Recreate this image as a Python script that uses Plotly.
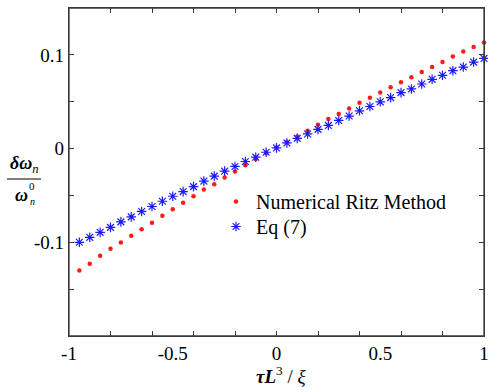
import plotly.graph_objects as go

# ---- data ----
tau_values = [-0.95, -0.90, -0.85, -0.80, -0.75, -0.70, -0.65, -0.60, -0.55, -0.50,
              -0.45, -0.40, -0.35, -0.30, -0.25, -0.20, -0.15, -0.10, -0.05, 0.00,
              0.05, 0.10, 0.15, 0.20, 0.25, 0.30, 0.35, 0.40, 0.45, 0.50,
              0.55, 0.60, 0.65, 0.70, 0.75, 0.80, 0.85, 0.90, 0.95, 1.00]

ritz_values = [-0.1300, -0.1230, -0.1145, -0.1070, -0.1003, -0.0930, -0.0860, -0.0792, -0.0718, -0.0648,
               -0.0577, -0.0509, -0.0437, -0.0382, -0.0310, -0.0244, -0.0177, -0.0110, -0.0046, 0.0012,
               0.0071, 0.0130, 0.0191, 0.0255, 0.0315, 0.0368, 0.0427, 0.0488, 0.0541, 0.0597,
               0.0654, 0.0707, 0.0760, 0.0817, 0.0870, 0.0923, 0.0983, 0.1036, 0.1085, 0.1131]

eq7_values = [-0.1000, -0.0947, -0.0894, -0.0841, -0.0782, -0.0729, -0.0671, -0.0618, -0.0562, -0.0509,
              -0.0459, -0.0406, -0.0347, -0.0294, -0.0241, -0.0191, -0.0138, -0.0092, -0.0039, 0.0007,
              0.0060, 0.0109, 0.0156, 0.0205, 0.0247, 0.0300, 0.0347, 0.0403, 0.0449, 0.0499,
              0.0544, 0.0597, 0.0636, 0.0689, 0.0739, 0.0782, 0.0831, 0.0870, 0.0923, 0.0962]

series_names = ["Numerical Ritz Method", "Eq (7)"]

x_label_vals = [-1, -0.5, 0, 0.5, 1]
x_label_text = ["-1", "-0.5", "0", "0.5", "1"]
x_minor_vals = [-0.8, -0.6, -0.4, -0.2, 0, 0.2, 0.4, 0.6, 0.8]
y_label_vals = [-0.1, 0, 0.1]
y_label_text = ["-0.1", "0", "0.1"]
y_minor_vals = [-0.15, -0.05, 0.05]

# ---- layout geometry ----
W, H = 488, 387
ML, MR, MT, MB = 69, 4, 8, 51
PW, PH = W - ML - MR, H - MT - MB


def px(xp):
    return (xp - ML) / PW


def py(yp):
    return (H - MB - yp) / PH


FONT = "Liberation Serif, Times New Roman, serif"
AX = "#3a3a3a"

fig = go.Figure()
fig.add_trace(go.Scatter(
    x=tau_values, y=ritz_values, mode="markers", name=series_names[0],
    legend="legend", cliponaxis=False,
    marker=dict(symbol="circle", size=4.5, color="#ff1a1a", line=dict(width=0)),
))
fig.add_trace(go.Scatter(
    x=tau_values, y=eq7_values, mode="markers", name=series_names[1],
    legend="legend2", cliponaxis=False,
    marker=dict(symbol="asterisk-open", size=8, color="#1a1aff",
                line=dict(width=1.2, color="#1a1aff")),
))

axis_common = dict(
    showline=True, linecolor=AX, linewidth=1.3, mirror="allticks",
    showgrid=False, zeroline=False, automargin=False,
    tickfont=dict(family=FONT, size=19, color="black"),
    tickcolor=AX, ticklen=5, tickwidth=1, ticklabeloverflow="allow",
)

legend_common = dict(
    xanchor="left", yanchor="top",
    bgcolor="rgba(0,0,0,0)", borderwidth=0,
    font=dict(family=FONT, size=20, color="black"),
)

fig.update_layout(
    width=W, height=H,
    margin=dict(l=ML, r=MR, t=MT, b=MB, autoexpand=False),
    paper_bgcolor="white", plot_bgcolor="white",
    font=dict(family=FONT, size=19, color="black"),
    showlegend=True,
    legend=dict(x=px(216), y=py(182), **legend_common),
    legend2=dict(x=px(216), y=py(207), **legend_common),
    xaxis=dict(
        range=[-1, 1], tickmode="array", tickvals=x_label_vals, ticktext=x_label_text,
        ticks="", ticklabelstandoff=0,
        minor=dict(tickmode="array", tickvals=x_minor_vals, ticks="inside",
                   ticklen=5, tickcolor=AX, tickwidth=1),
        **axis_common,
    ),
    yaxis=dict(
        range=[-0.2, 0.15], tickmode="array", tickvals=y_label_vals, ticktext=y_label_text,
        ticks="inside",
        minor=dict(tickmode="array", tickvals=y_minor_vals, ticks="inside",
                   ticklen=5, tickcolor=AX, tickwidth=1),
        **axis_common,
    ),
)

# plot frame
fig.add_shape(
    type="rect", xref="paper", yref="paper", x0=0, x1=1, y0=0, y1=1,
    line=dict(color=AX, width=1.3), fillcolor="rgba(0,0,0,0)", layer="above",
)

ann = dict(xref="paper", yref="paper", showarrow=False, xanchor="center", yanchor="middle")

# x-axis title
fig.add_annotation(
    x=px(281), y=py(375),
    text="<b><i>τL</i></b><sup>3</sup> / <i>ξ</i>",
    font=dict(family=FONT, size=19, color="black"), **ann,
)

# y-axis title as a stacked fraction
fig.add_annotation(
    x=px(24), y=py(164),
    text="<b><i>δω</i></b><sub><i>n</i></sub>",
    font=dict(family=FONT, size=18, color="black"), **ann,
)
fig.add_shape(
    type="line", xref="paper", yref="paper",
    x0=px(7), x1=px(41), y0=py(179), y1=py(179),
    line=dict(color="black", width=1),
)
fig.add_annotation(
    x=px(21), y=py(195),
    text="<b><i>ω</i></b>",
    font=dict(family=FONT, size=18, color="black"), **ann,
)
fig.add_annotation(
    x=px(32), y=py(186),
    text="0", font=dict(family=FONT, size=11, color="black"), **ann,
)
fig.add_annotation(
    x=px(32), y=py(201),
    text="<i>n</i>", font=dict(family=FONT, size=10, color="black"), **ann,
)

fig.write_html(
    "out.html",
    config={"displayModeBar": False},
    post_script="document.body.style.margin='0';document.body.style.overflow='hidden';",
)
